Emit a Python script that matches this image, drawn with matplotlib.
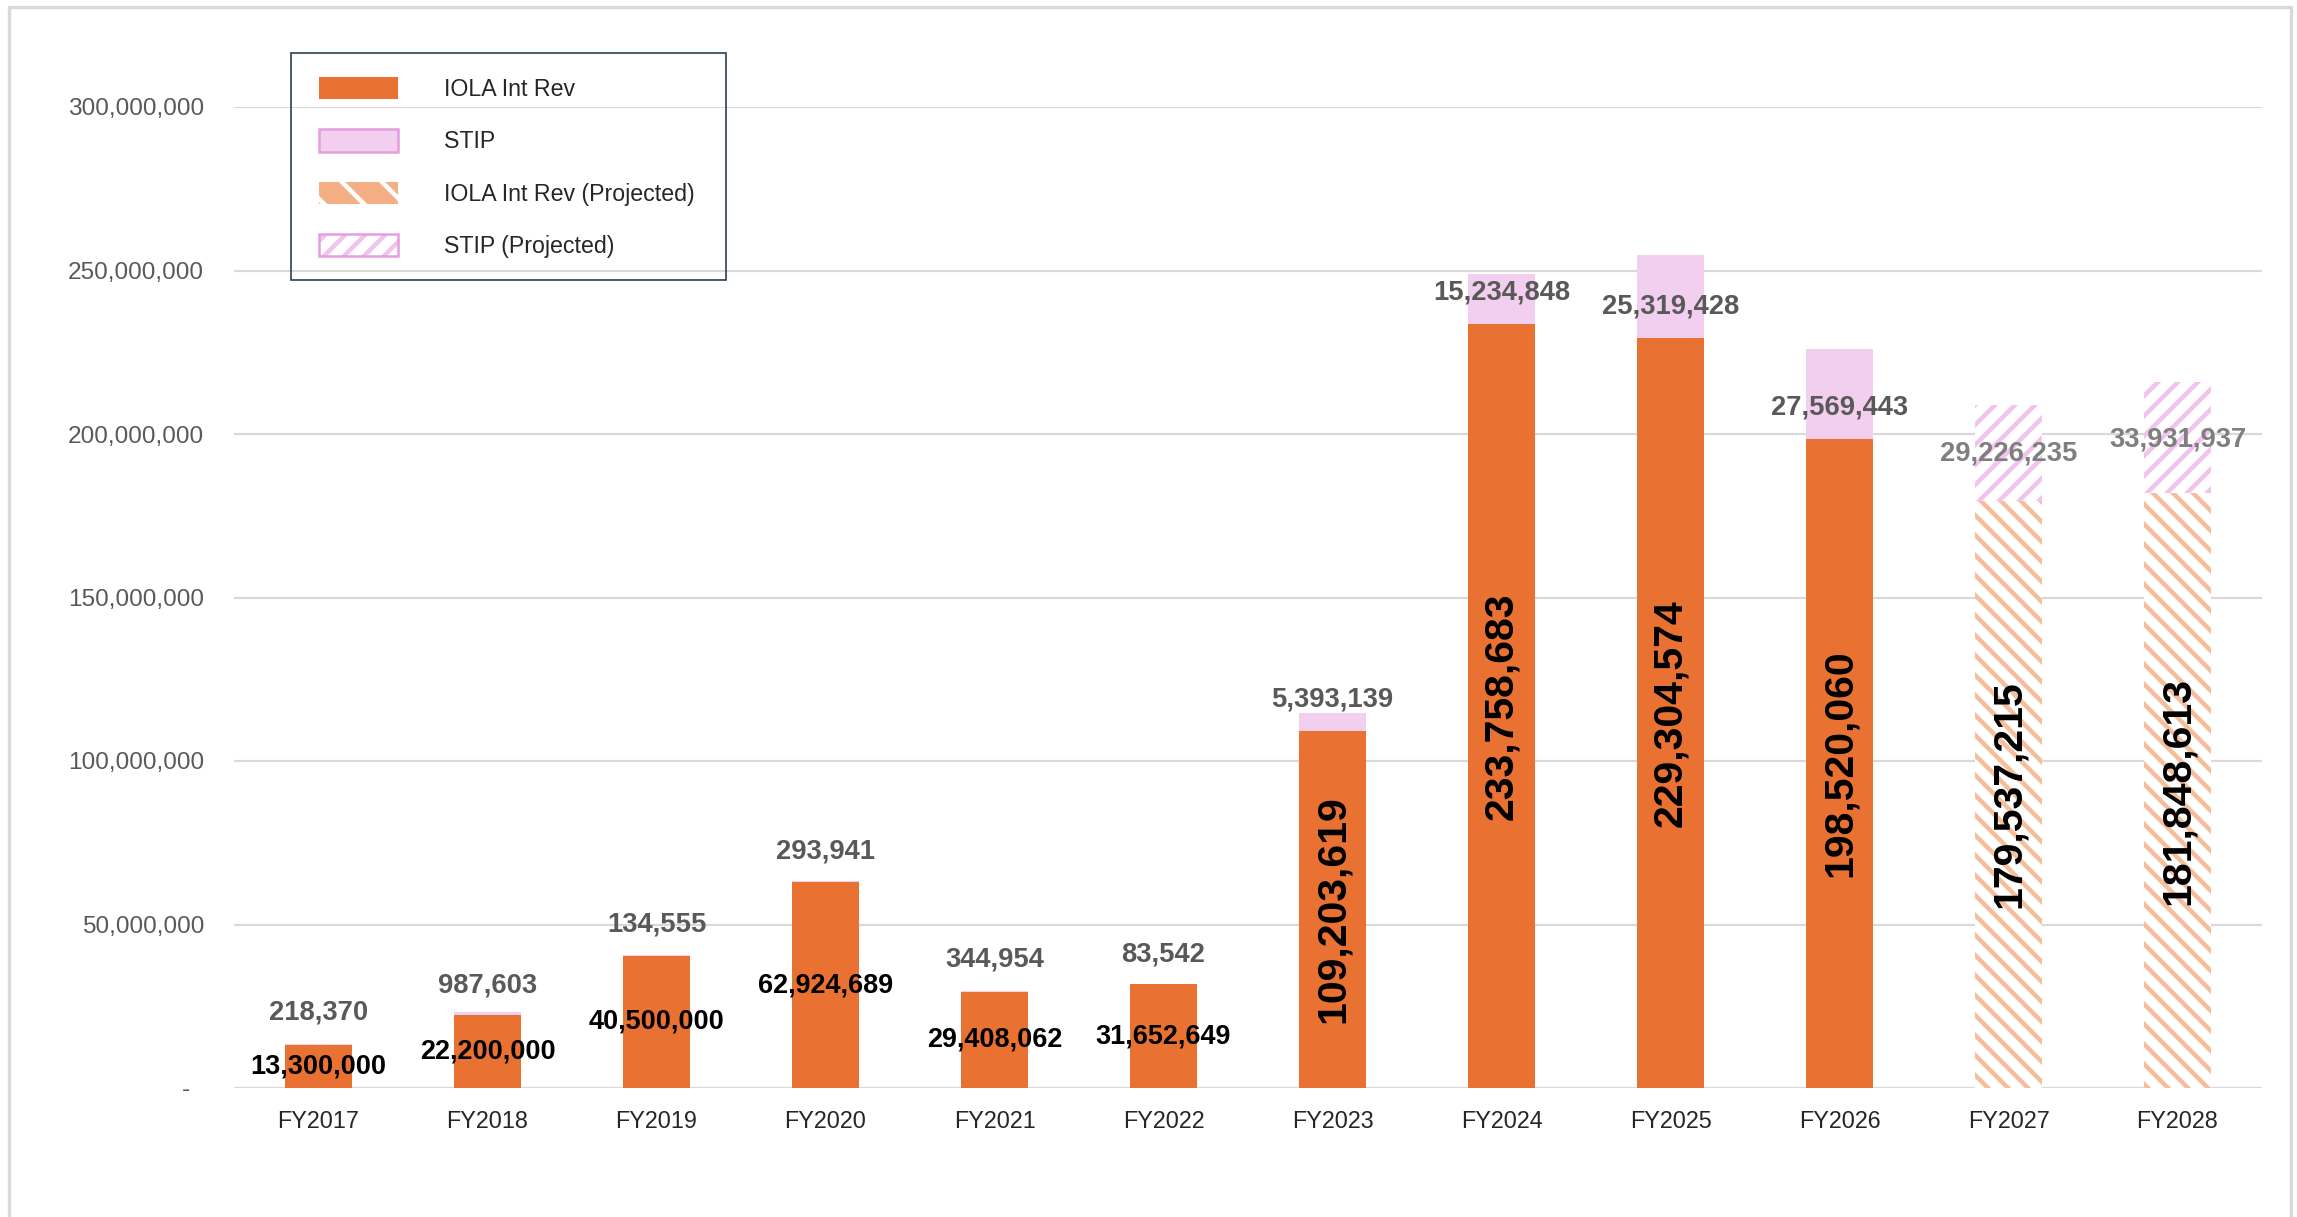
import matplotlib
matplotlib.use("Agg")
import matplotlib.pyplot as plt
from matplotlib.patches import Patch, Rectangle
from matplotlib.lines import Line2D
from matplotlib.ticker import FuncFormatter, MultipleLocator
from matplotlib.legend_handler import HandlerTuple
import matplotlib.transforms as mtransforms

# ---- data -------------------------------------------------------------
categories = ["FY2017", "FY2018", "FY2019", "FY2020", "FY2021", "FY2022",
              "FY2023", "FY2024", "FY2025", "FY2026", "FY2027", "FY2028"]
iola_int_rev = [13300000, 22200000, 40500000, 62924689, 29408062, 31652649,
                109203619, 233758683, 229304574, 198520060, 179537215, 181848613]
stip = [218370, 987603, 134555, 293941, 344954, 83542,
        5393139, 15234848, 25319428, 27569443, 29226235, 33931937]
is_projected = [False] * 10 + [True] * 2

# ---- styling ----------------------------------------------------------
DPI = 120
ORANGE = "#E97132"
ORANGE_HATCH = "#F7BE9C"
ORANGE_LEGEND = "#F4B084"
PINK = "#F2CEEF"
PINK_HATCH = "#F0C4EC"
PINK_EDGE = "#E49EDD"
GRID = "#D9D9D9"
FONT = ["Liberation Sans", "DejaVu Sans"]

# vertical nudges (pixels, + is up) for the STIP value labels
stip_label_shift_px = [31, 27, 31, 30, 31, 30, 14, 6, -10, -14, 0, -2]

plt.rcParams["font.family"] = FONT
plt.rcParams["hatch.linewidth"] = 2.7

W, H = 2297, 1217
fig = plt.figure(figsize=(W / DPI, H / DPI), dpi=DPI, facecolor="white")
ax = fig.add_axes([234 / W, 1 - 1088 / H, (2262 - 234) / W, (1088 - 107) / H])

x = list(range(len(categories)))
bar_w = 0.40

act = [i for i in x if not is_projected[i]]
prj = [i for i in x if is_projected[i]]

# actual years: solid fills
ax.bar(act, [iola_int_rev[i] for i in act], width=bar_w, color=ORANGE, linewidth=0)
ax.bar(act, [stip[i] for i in act], bottom=[iola_int_rev[i] for i in act],
       width=bar_w, color=PINK, linewidth=0)
# projected years: hatched fills
ax.bar(prj, [iola_int_rev[i] for i in prj], width=bar_w, facecolor="white",
       edgecolor=ORANGE_HATCH, hatch="\\\\", linewidth=0)
ax.bar(prj, [stip[i] for i in prj], bottom=[iola_int_rev[i] for i in prj],
       width=bar_w, facecolor="white", edgecolor=PINK_HATCH, hatch="//", linewidth=0)

# ---- value labels -----------------------------------------------------
for i in x:
    v = iola_int_rev[i]
    if v >= 100_000_000:
        ax.text(i, v / 2, f"{v:,}", rotation=90, ha="center", va="center",
                fontsize=24.6, fontweight="bold", color="black")
    else:
        ax.text(i, v / 2, f"{v:,}", ha="center", va="center",
                fontsize=16.2, fontweight="bold", color="black")

    s = stip[i]
    top = v + s
    anchor = top if s < 10_000_000 else v + s / 2
    shift = mtransforms.offset_copy(ax.transData, fig=fig,
                                    x=0, y=stip_label_shift_px[i], units="dots")
    ax.text(i, anchor, f"{s:,}", transform=shift, ha="center", va="center",
            fontsize=16.4, fontweight="bold",
            color="#7F7F7F" if is_projected[i] else "#595959")

# ---- axes -------------------------------------------------------------
ax.set_xlim(-0.5, len(categories) - 0.5)
ax.set_ylim(0, 300_000_000)
ax.yaxis.set_major_locator(MultipleLocator(50_000_000))
ax.yaxis.set_major_formatter(FuncFormatter(lambda v, p: "-  " if v == 0 else f"{v:,.0f}"))
ax.set_xticks(x)
ax.set_xticklabels(categories)
ax.tick_params(axis="y", length=0, pad=18, labelsize=14.6, labelcolor="#595959")
ax.tick_params(axis="x", length=0, pad=13.5, labelsize=14, labelcolor="#262626")
for sp in ax.spines.values():
    sp.set_visible(False)
ax.yaxis.grid(True, color=GRID, linewidth=1.3)
ax.set_axisbelow(True)
ax.set_facecolor("none")

# ---- legend -----------------------------------------------------------
handles = [
    Patch(facecolor=ORANGE, edgecolor="none"),
    Patch(facecolor=PINK, edgecolor=PINK_EDGE, linewidth=1.5),
    Patch(facecolor=ORANGE_LEGEND, edgecolor="white", hatch="\\", linewidth=0),
    (Patch(facecolor="white", edgecolor=PINK_HATCH, hatch="//", linewidth=0),
     Patch(facecolor="none", edgecolor=PINK_EDGE, linewidth=1.5)),
]
labels = ["IOLA Int Rev", "STIP", "IOLA Int Rev (Projected)", "STIP (Projected)"]
leg = ax.legend(handles, labels, loc="upper left",
                bbox_to_anchor=(319 / W, 1 - 77 / H), bbox_transform=fig.transFigure,
                borderaxespad=0, borderpad=0, fontsize=13.9, frameon=False,
                handlelength=3.42, handleheight=1.1, handletextpad=1.97,
                labelspacing=1.22,
                handler_map={tuple: HandlerTuple(ndivide=1)})
for t in leg.get_texts():
    t.set_color("#262626")

# legend frame
fig.add_artist(Rectangle((291 / W, 1 - 280 / H), (726 - 291) / W, (280 - 53) / H,
                         transform=fig.transFigure, facecolor="none",
                         edgecolor="#2E4053", linewidth=1.0, zorder=5))

# ---- outer frame (open at the bottom) ---------------------------------
fx = [9 / W, 9 / W, 2291 / W, 2291 / W]
fy = [-0.01, 1 - 7 / H, 1 - 7 / H, -0.01]
fig.add_artist(Line2D(fx, fy, transform=fig.transFigure, color=GRID, linewidth=2.0))

fig.savefig("out.png", dpi=DPI, facecolor="white")
